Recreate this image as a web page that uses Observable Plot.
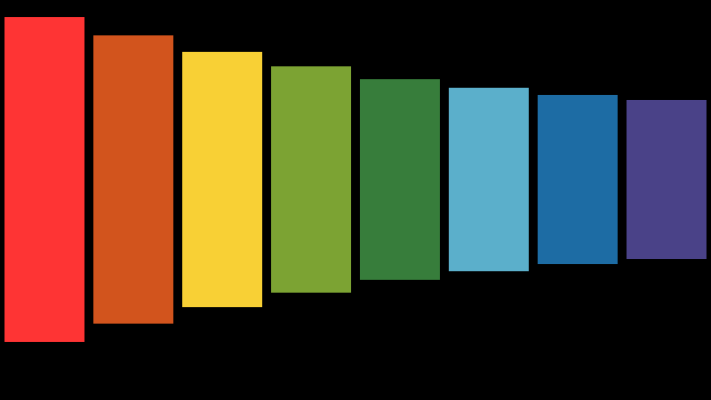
<!DOCTYPE html>
<html>
<head>
<meta charset="utf-8">
<script src="https://cdn.jsdelivr.net/npm/d3@7"></script>
<script src="https://cdn.jsdelivr.net/npm/@observablehq/plot@0.6"></script>
<style>
  html, body { margin: 0; padding: 0; background: #000; }
  #chart svg { display: block; }
</style>
</head>
<body>
<div id="chart"></div>
<script>
const categories = ["A", "B", "C", "D", "E", "F", "G", "H"];
const highValues = [181, 160.6, 142.2, 126.1, 111.8, 102.2, 94.2, 88.6];
const lowValues = [-181, -160.6, -142.2, -126.1, -111.8, -102.2, -94.2, -88.6];
const colors = ["#fe3434", "#d2541d", "#f8d035", "#7ca333", "#377d3b", "#5bafcb", "#1d6ca4", "#4a4288"];

const data = categories.map((c, i) => ({cat: c, low: lowValues[i], high: highValues[i]}));

const chart = Plot.plot({
  width: 711,
  height: 400,
  marginTop: 0,
  marginBottom: 41,
  marginLeft: 4.5,
  marginRight: 4.5,
  style: {background: "#000"},
  x: {domain: categories, paddingInner: 0.1, paddingOuter: 0, round: false, axis: null},
  y: {domain: [-200, 200], axis: null},
  color: {domain: categories, range: colors},
  marks: [
    Plot.barY(data, {x: "cat", y1: "low", y2: "high", fill: "cat"})
  ]
});
document.getElementById("chart").appendChild(chart);
</script>
</body>
</html>
